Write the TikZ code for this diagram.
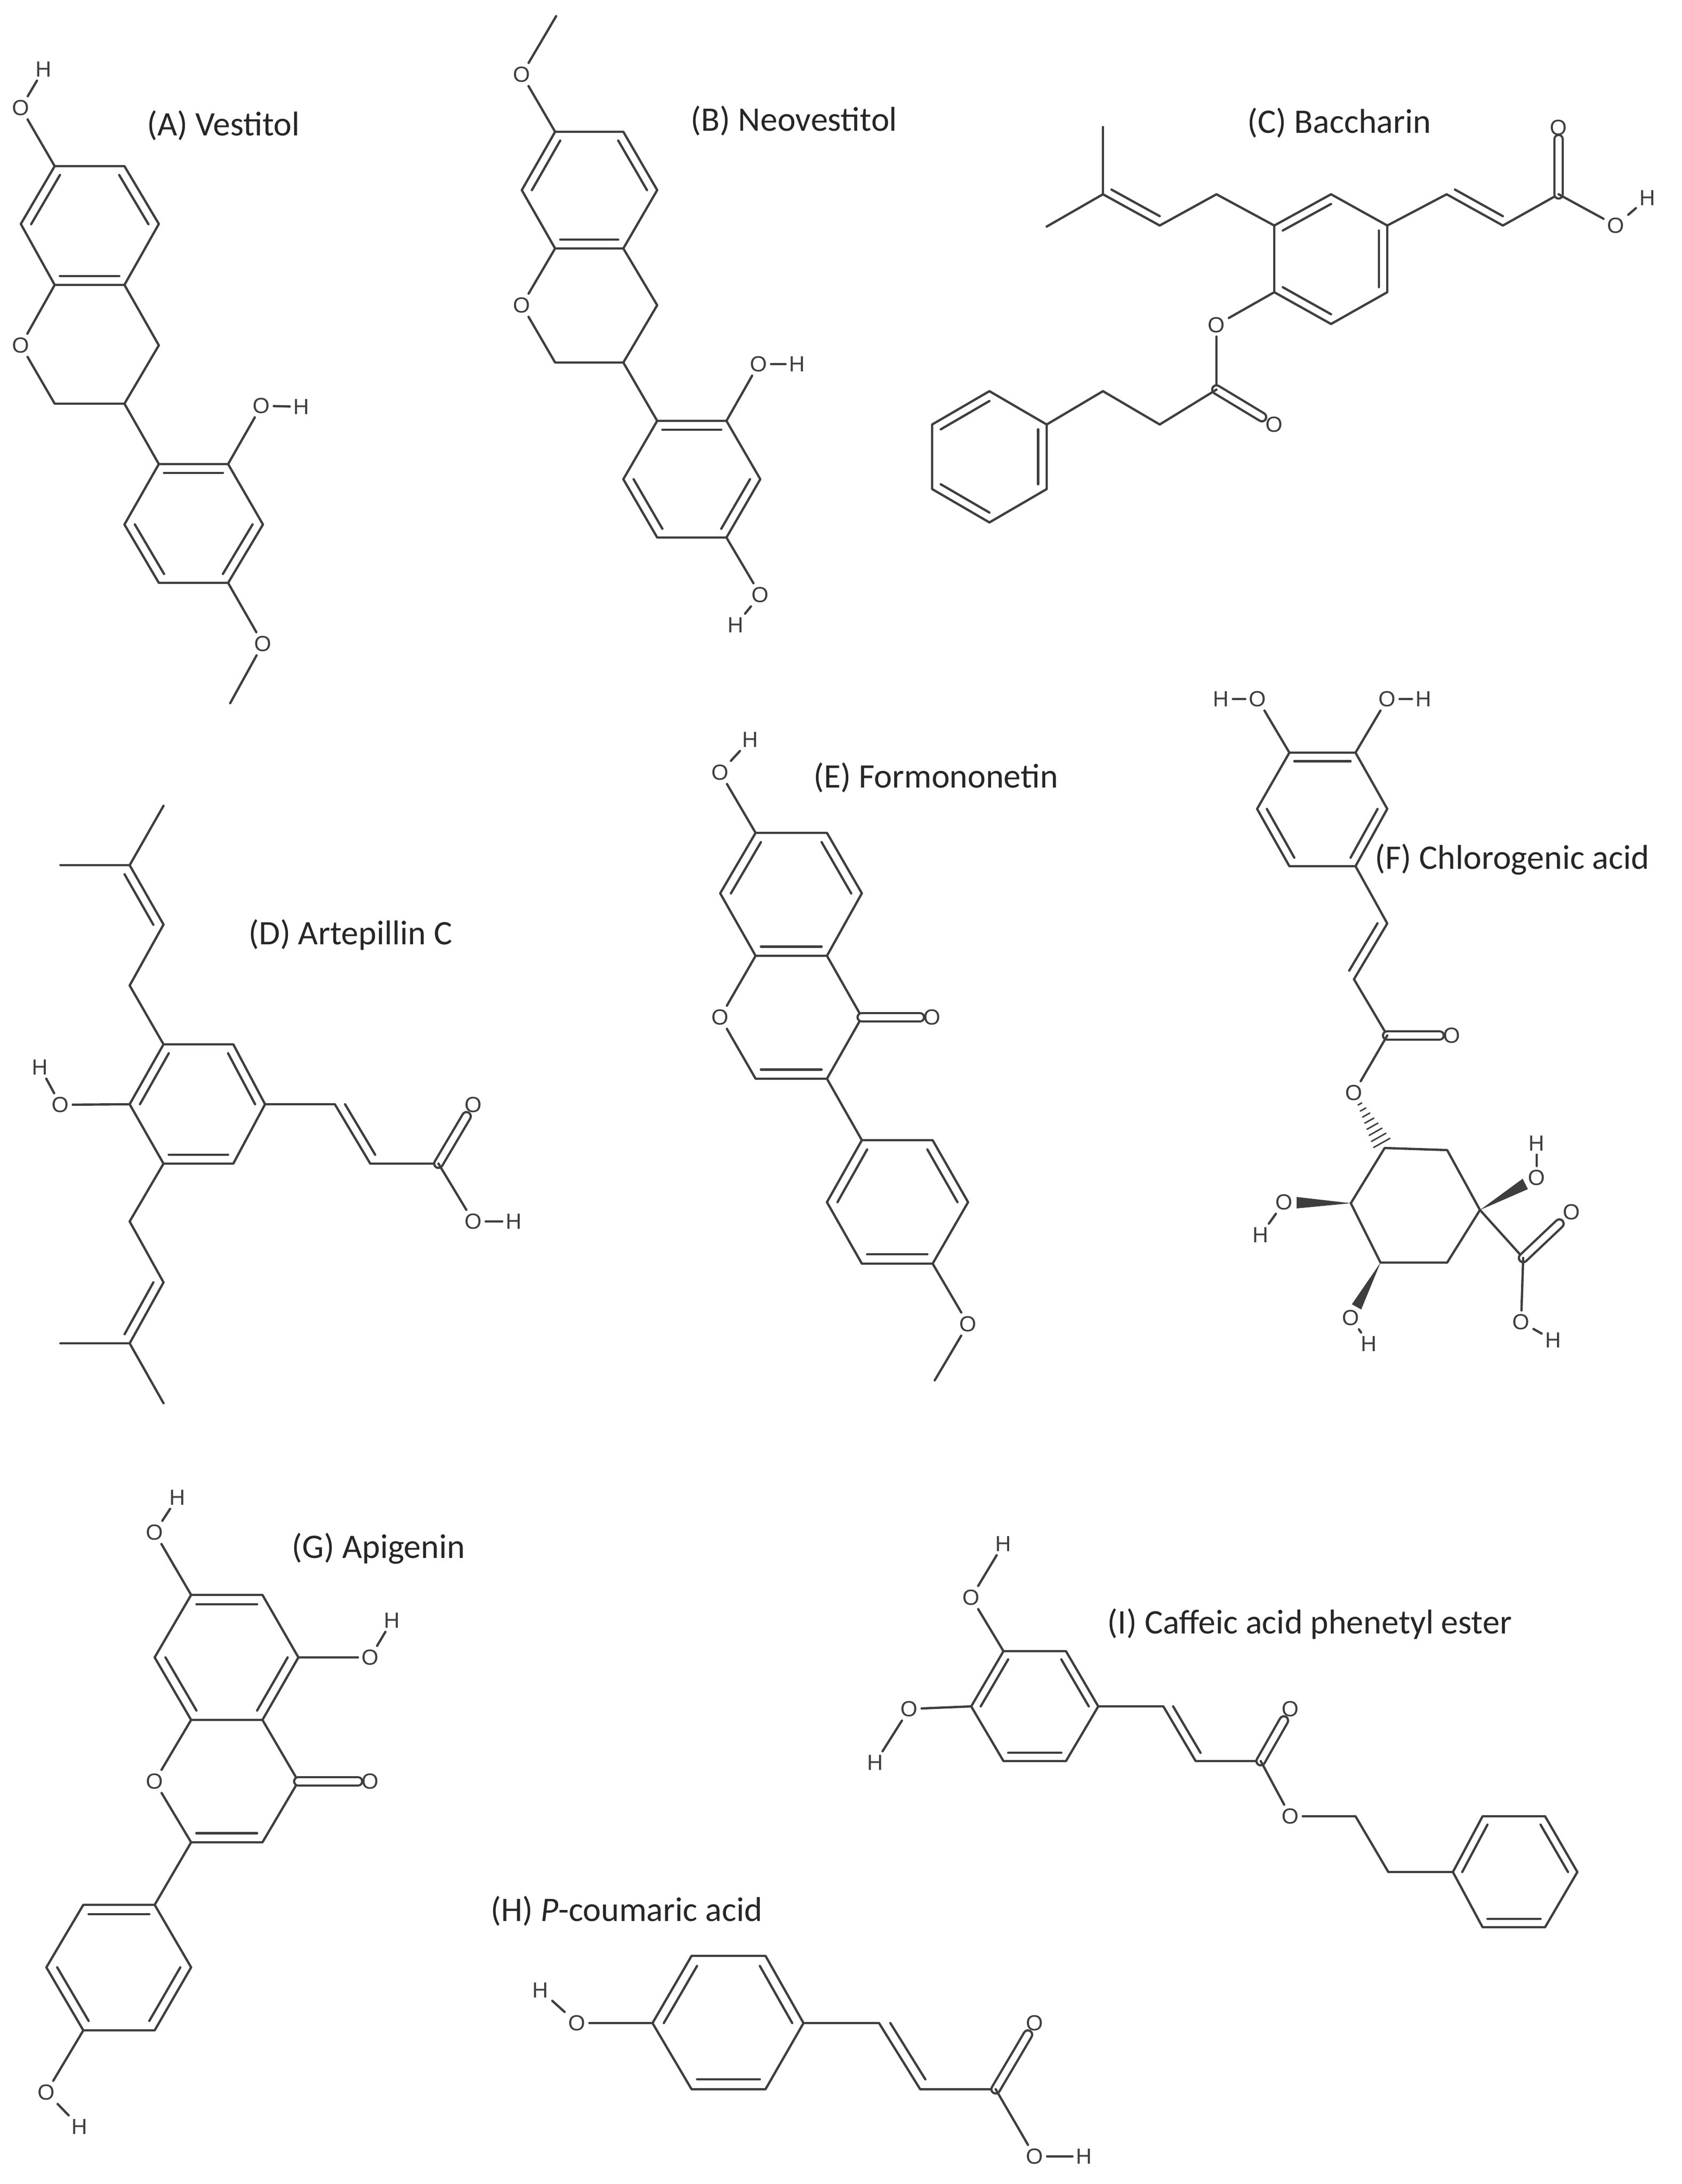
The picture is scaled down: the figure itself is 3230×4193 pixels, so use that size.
\documentclass[tikz,border=0pt]{standalone}
\usepackage{fontspec}
\setmainfont{Carlito}
\newfontfamily\atomfam{Liberation Sans}
\usetikzlibrary{calc}
\definecolor{bc}{RGB}{62,62,62}
\newcommand\dblin[3]{\draw ($(#1)!0.15!(#3)$) -- ($(#2)!0.15!(#3)$);}
\newcommand\hexring[7]{\draw (#1)--(#2)--(#3)--(#4)--(#5)--(#6)--cycle; \coordinate (#7) at ($(#1)!0.5!(#4)$);}
\tikzset{
 atom/.style={font=\atomfam\fontsize{10.5}{12}\selectfont, inner sep=1.3pt, text=bc},
 ttl/.style={font=\fontsize{16.5}{20}\selectfont, text=black!85, inner sep=0pt},
 dbc/.style={double=white, double distance=3pt},
}
\begin{document}
\begin{tikzpicture}[x=0.25pt,y=-0.25pt, line width=1.1pt, color=bc, line join=round, line cap=round]
\useasboundingbox (0,0) rectangle (3230,4193);
\fill[white] (0,0) rectangle (3230,4193);

%% (A) Vestitol
\node[ttl] (tA) at (429,241) {(A) Vestitol};
\coordinate (a1) at (105,319); \coordinate (a2) at (239,319); \coordinate (a3) at (305,430);
\coordinate (a4) at (239,547); \coordinate (a5) at (105,547); \coordinate (a6) at (40,430);
\hexring{a1}{a2}{a3}{a4}{a5}{a6}{ac}
\dblin{a6}{a1}{ac}\dblin{a2}{a3}{ac}\dblin{a4}{a5}{ac}
\node[atom] (aO1) at (40,207) {O}; \node[atom] (aH1) at (84,133) {H};
\draw (a1)--(aO1)--(aH1);
\node[atom] (aO2) at (40,663) {O};
\coordinate (a7) at (105,775); \coordinate (a8) at (239,775); \coordinate (a9) at (305,663);
\draw (a5)--(aO2)--(a7)--(a8)--(a9)--(a4);
\coordinate (b1) at (305,891); \coordinate (b2) at (438,891); \coordinate (b3) at (505,1007);
\coordinate (b4) at (438,1119); \coordinate (b5) at (305,1119); \coordinate (b6) at (239,1007);
\hexring{b1}{b2}{b3}{b4}{b5}{b6}{bc}
\dblin{b1}{b2}{bc}\dblin{b3}{b4}{bc}\dblin{b5}{b6}{bc}
\draw (a8)--(b1);
\node[atom] (aO3) at (502,779) {O}; \node[atom] (aH3) at (579,781) {H};
\draw (b2)--(aO3)--(aH3);
\node[atom] (aO4) at (505,1236) {O}; \coordinate (aMe) at (442,1350);
\draw (b4)--(aO4)--(aMe);

%% (B) Neovestitol
\node[ttl] (tB) at (1525,232) {(B) Neovestitol};
\coordinate (c1) at (1066,253); \coordinate (c2) at (1197,253); \coordinate (c3) at (1262,365);
\coordinate (c4) at (1197,477); \coordinate (c5) at (1066,477); \coordinate (c6) at (1002,365);
\hexring{c1}{c2}{c3}{c4}{c5}{c6}{cc}
\dblin{c6}{c1}{cc}\dblin{c2}{c3}{cc}\dblin{c4}{c5}{cc}
\node[atom] (bO1) at (1002,143) {O}; \coordinate (bMe) at (1068,31);
\draw (c1)--(bO1)--(bMe);
\node[atom] (bO2) at (1002,586) {O};
\coordinate (c7) at (1066,696); \coordinate (c8) at (1197,696); \coordinate (c9) at (1262,586);
\draw (c5)--(bO2)--(c7)--(c8)--(c9)--(c4);
\coordinate (d1) at (1262,808); \coordinate (d2) at (1395,808); \coordinate (d3) at (1460,920);
\coordinate (d4) at (1395,1032); \coordinate (d5) at (1262,1032); \coordinate (d6) at (1197,920);
\hexring{d1}{d2}{d3}{d4}{d5}{d6}{dc}
\dblin{d1}{d2}{dc}\dblin{d3}{d4}{dc}\dblin{d5}{d6}{dc}
\draw (c8)--(d1);
\node[atom] (bO3) at (1457,699) {O}; \node[atom] (bH3) at (1531,699) {H};
\draw (d2)--(bO3)--(bH3);
\node[atom] (bO4) at (1460,1142) {O}; \node[atom] (bH4) at (1413,1200) {H};
\draw (d4)--(bO4)--(bH4);

%% (C) Baccharin
\node[ttl] (tC) at (2572,236) {(C) Baccharin};
\coordinate (e1) at (2447,433); \coordinate (e2) at (2556,373); \coordinate (e3) at (2664,433);
\coordinate (e4) at (2664,561); \coordinate (e5) at (2556,622); \coordinate (e6) at (2447,561);
\hexring{e1}{e2}{e3}{e4}{e5}{e6}{ec}
\dblin{e1}{e2}{ec}\dblin{e3}{e4}{ec}\dblin{e5}{e6}{ec}
\coordinate (cMt) at (2118,244); \coordinate (cC) at (2118,373); \coordinate (cMl) at (2010,435);
\coordinate (cC2) at (2227,433); \coordinate (cCH) at (2336,373);
\draw (cMt)--(cC)--(cC2)--(cCH)--(e1); \draw (cMl)--(cC);
\dblin{cC}{cC2}{$(cC)+(cCH)-(cC2)$}
\coordinate (f1) at (2778,373); \coordinate (f2) at (2886,433); \coordinate (f3) at (2993,373);
\draw (e3)--(f1)--(f2)--(f3);
\dblin{f1}{f2}{$(f1)+(f3)-(f2)$}
\node[atom] (cO1) at (2993,245) {O}; \draw[dbc] (f3)--(cO1);
\node[atom] (cO2) at (3103,433) {O}; \node[atom] (cH2) at (3164,380) {H};
\draw (f3)--(cO2)--(cH2);
\node[atom] (cO3) at (2336,624) {O}; \coordinate (cE) at (2336,748);
\draw (e6)--(cO3)--(cE);
\node[atom] (cO4) at (2447,815) {O}; \draw[dbc] (cE)--(cO4);
\coordinate (cP1) at (2227,815); \coordinate (cP2) at (2118,751);
\coordinate (g1) at (2010,815); \coordinate (g2) at (2010,939); \coordinate (g3) at (1900,1003);
\coordinate (g4) at (1790,939); \coordinate (g5) at (1790,815); \coordinate (g6) at (1900,751);
\draw (cE)--(cP1)--(cP2)--(g1);
\hexring{g1}{g2}{g3}{g4}{g5}{g6}{gc}
\dblin{g1}{g2}{gc}\dblin{g3}{g4}{gc}\dblin{g5}{g6}{gc}

%% (D) Artepillin C
\node[ttl] (tD) at (673,1795) {(D) Artepillin C};
\coordinate (h1) at (314,2005); \coordinate (h2) at (448,2005); \coordinate (h3) at (509,2120);
\coordinate (h4) at (448,2234); \coordinate (h5) at (314,2234); \coordinate (h6) at (249,2120);
\hexring{h1}{h2}{h3}{h4}{h5}{h6}{hc}
\dblin{h6}{h1}{hc}\dblin{h2}{h3}{hc}\dblin{h4}{h5}{hc}
\coordinate (dMt) at (314,1547); \coordinate (dC) at (249,1661); \coordinate (dMl) at (116,1661);
\coordinate (dC2) at (314,1775); \coordinate (dCH) at (249,1892);
\draw (dMt)--(dC)--(dC2)--(dCH)--(h1); \draw (dMl)--(dC);
\dblin{dC}{dC2}{$(dC)+(dCH)-(dC2)$}
\coordinate (dBH) at (249,2345); \coordinate (dB2) at (314,2462); \coordinate (dB) at (249,2579);
\coordinate (dBl) at (116,2579); \coordinate (dBb) at (314,2694);
\draw (h5)--(dBH)--(dB2)--(dB)--(dBb); \draw (dBl)--(dB);
\dblin{dB}{dB2}{$(dB)+(dBH)-(dB2)$}
\node[atom] (dO1) at (116,2121) {O}; \node[atom] (dH1) at (77,2049) {H};
\draw (h6)--(dO1)--(dH1);
\coordinate (i1) at (643,2120); \coordinate (i2) at (711,2234); \coordinate (i3) at (842,2234);
\draw (h3)--(i1)--(i2)--(i3);
\dblin{i1}{i2}{$(i1)+(i3)-(i2)$}
\node[atom] (dO2) at (909,2121) {O}; \draw[dbc] (i3)--(dO2);
\node[atom] (dO3) at (909,2345) {O}; \node[atom] (dH3) at (987,2345) {H};
\draw (i3)--(dO3)--(dH3);

%% (E) Formononetin
\node[ttl] (tE) at (1797,1493) {(E) Formononetin};
\coordinate (j1) at (1451,1599); \coordinate (j2) at (1588,1599); \coordinate (j3) at (1655,1715);
\coordinate (j4) at (1588,1835); \coordinate (j5) at (1451,1835); \coordinate (j6) at (1383,1715);
\hexring{j1}{j2}{j3}{j4}{j5}{j6}{jc}
\dblin{j6}{j1}{jc}\dblin{j2}{j3}{jc}\dblin{j4}{j5}{jc}
\node[atom] (eO1) at (1383,1483) {O}; \node[atom] (eH1) at (1441,1420) {H};
\draw (j1)--(eO1)--(eH1);
\node[atom] (eO2) at (1383,1953) {O};
\coordinate (k1) at (1451,2071); \coordinate (k2) at (1588,2071); \coordinate (k3) at (1655,1953);
\coordinate (kc) at (1519,1953);
\draw (j5)--(eO2)--(k1)--(k2)--(k3)--(j4);
\dblin{k1}{k2}{kc}
\node[atom] (eO3) at (1790,1953) {O}; \draw[dbc] (k3)--(eO3);
\coordinate (l1) at (1655,2189); \coordinate (l2) at (1791,2189); \coordinate (l3) at (1859,2308);
\coordinate (l4) at (1791,2426); \coordinate (l5) at (1655,2426); \coordinate (l6) at (1588,2308);
\hexring{l1}{l2}{l3}{l4}{l5}{l6}{lc}
\dblin{l6}{l1}{lc}\dblin{l2}{l3}{lc}\dblin{l4}{l5}{lc}
\draw (k2)--(l1);
\node[atom] (eO4) at (1859,2542) {O}; \coordinate (eMe) at (1795,2650);
\draw (l4)--(eO4)--(eMe);

%% (F) Chlorogenic acid
\node[ttl, anchor=west] (tF) at (2638,1650) {(F) Chlorogenic acid};
\coordinate (m1) at (2476,1445); \coordinate (m2) at (2603,1445); \coordinate (m3) at (2664,1553);
\coordinate (m4) at (2603,1663); \coordinate (m5) at (2476,1663); \coordinate (m6) at (2414,1553);
\hexring{m1}{m2}{m3}{m4}{m5}{m6}{mc}
\dblin{m1}{m2}{mc}\dblin{m3}{m4}{mc}\dblin{m5}{m6}{mc}
\node[atom] (fO1) at (2415,1342) {O}; \node[atom] (fH1) at (2345,1342) {H};
\draw (m1)--(fO1)--(fH1);
\node[atom] (fO2) at (2664,1342) {O}; \node[atom] (fH2) at (2734,1342) {H};
\draw (m2)--(fO2)--(fH2);
\coordinate (n1) at (2664,1773); \coordinate (n2) at (2600,1880); \coordinate (n3) at (2664,1988);
\draw (m4)--(n1)--(n2)--(n3);
\dblin{n1}{n2}{$(m4)+(n2)-(n1)$}
\node[atom] (fO3) at (2788,1988) {O}; \draw[dbc] (n3)--(fO3);
\node[atom] (fO4) at (2600,2098) {O}; \draw (n3)--(fO4);
\coordinate (q1) at (2659,2204); \coordinate (q2) at (2779,2208); \coordinate (q3) at (2842,2323);
\coordinate (q4) at (2779,2424); \coordinate (q5) at (2651,2424); \coordinate (q6) at (2594,2310);
\draw (q1)--(q2)--(q3)--(q4)--(q5)--(q6)--cycle;
\coordinate (fOs) at (2609,2115);
\foreach \t/\w in {0.05/1.0,0.17/1.5,0.29/2.0,0.41/2.5,0.53/3.0,0.65/3.5,0.77/4.0,0.89/4.5}
  \draw[line width=0.7pt] ($(fOs)!\t!(q1)!\w pt!90:(q1)$) -- ($(fOs)!\t!(q1)!\w pt!-90:(q1)$);
\node[atom] (fO5) at (2466,2308) {O}; \node[atom] (fH5) at (2421,2371) {H};
\fill (q6) -- (2490,2298) -- (2490,2320) -- cycle; \draw (fO5)--(fH5);
\node[atom] (fO6) at (2594,2530) {O}; \node[atom] (fH6) at (2629,2580) {H};
\fill (q5) -- (2614,2514) -- (2596,2504) -- cycle; \draw (fO6)--(fH6);
\node[atom] (fO7) at (2951,2261) {O}; \node[atom] (fH7) at (2951,2195) {H};
\fill (q3) -- (2934,2283) -- (2924,2263) -- cycle; \draw (fO7)--(fH7);
\coordinate (fC) at (2925,2415); \draw (q3)--(fC);
\node[atom] (fO8) at (3018,2327) {O}; \draw[dbc] (fC)--(fO8);
\node[atom] (fO9) at (2921,2538) {O}; \node[atom] (fH9) at (2983,2573) {H};
\draw (fC)--(fO9)--(fH9);

%% (G) Apigenin
\node[ttl] (tG) at (727,2973) {(G) Apigenin};
\coordinate (r1) at (367,3062); \coordinate (r2) at (504,3062); \coordinate (r3) at (573,3182);
\coordinate (r4) at (504,3302); \coordinate (r5) at (367,3302); \coordinate (r6) at (297,3182);
\hexring{r1}{r2}{r3}{r4}{r5}{r6}{rc}
\dblin{r1}{r2}{rc}\dblin{r3}{r4}{rc}\dblin{r5}{r6}{rc}
\node[atom] (gO1) at (297,2942) {O}; \node[atom] (gH1) at (341,2875) {H};
\draw (r1)--(gO1)--(gH1);
\node[atom] (gO2) at (711,3182) {O}; \node[atom] (gH2) at (753,3111) {H};
\draw (r3)--(gO2)--(gH2);
\node[atom] (gO3) at (297,3420) {O};
\coordinate (s1) at (367,3537); \coordinate (s2) at (504,3537); \coordinate (s3) at (573,3420);
\coordinate (sc) at (435,3420);
\draw (r5)--(gO3)--(s1)--(s2)--(s3)--(r4);
\dblin{s1}{s2}{sc}
\node[atom] (gO4) at (711,3420) {O}; \draw[dbc] (s3)--(gO4);
\coordinate (t1) at (297,3657); \coordinate (t2) at (367,3777); \coordinate (t3) at (297,3898);
\coordinate (t4) at (160,3898); \coordinate (t5) at (89,3777); \coordinate (t6) at (160,3657);
\hexring{t1}{t2}{t3}{t4}{t5}{t6}{tc}
\dblin{t1}{t6}{tc}\dblin{t2}{t3}{tc}\dblin{t4}{t5}{tc}
\draw (s1)--(t1);
\node[atom] (gO5) at (89,4017) {O}; \node[atom] (gH5) at (153,4083) {H};
\draw (t4)--(gO5)--(gH5);

%% (I) Caffeic acid phenetyl ester
\node[ttl] (tI) at (2515,3118) {(I) Caffeic acid phenetyl ester};
\coordinate (u1) at (1927,3170); \coordinate (u2) at (2047,3170); \coordinate (u3) at (2109,3276);
\coordinate (u4) at (2047,3381); \coordinate (u5) at (1927,3381); \coordinate (u6) at (1865,3276);
\hexring{u1}{u2}{u3}{u4}{u5}{u6}{uc}
\dblin{u1}{u6}{uc}\dblin{u2}{u3}{uc}\dblin{u4}{u5}{uc}
\node[atom] (iO1) at (1865,3067) {O}; \node[atom] (iH1) at (1927,2964) {H};
\draw (u1)--(iO1)--(iH1);
\node[atom] (iO2) at (1746,3281) {O}; \node[atom] (iH2) at (1681,3384) {H};
\draw (u6)--(iO2)--(iH2);
\coordinate (v1) at (2234,3276); \coordinate (v2) at (2296,3381); \coordinate (v3) at (2421,3381);
\draw (u3)--(v1)--(v2)--(v3);
\dblin{v1}{v2}{$(v1)+(v3)-(v2)$}
\node[atom] (iO3) at (2478,3281) {O}; \draw[dbc] (v3)--(iO3);
\node[atom] (iO4) at (2478,3487) {O};
\coordinate (iC1) at (2603,3487); \coordinate (iC2) at (2666,3594);
\coordinate (w1) at (2790,3594); \coordinate (w2) at (2847,3487); \coordinate (w3) at (2967,3487);
\coordinate (w4) at (3029,3594); \coordinate (w5) at (2967,3700); \coordinate (w6) at (2847,3700);
\draw (v3)--(iO4)--(iC1)--(iC2)--(w1);
\hexring{w1}{w2}{w3}{w4}{w5}{w6}{wc}
\dblin{w1}{w2}{wc}\dblin{w3}{w4}{wc}\dblin{w5}{w6}{wc}

%% (H) P-coumaric acid
\node[ttl] (tH) at (1203,3669) {(H) \textit{P}-coumaric acid};
\coordinate (x1) at (1253,3884); \coordinate (x2) at (1328,3755); \coordinate (x3) at (1470,3755);
\coordinate (x4) at (1543,3884); \coordinate (x5) at (1470,4011); \coordinate (x6) at (1328,4011);
\hexring{x1}{x2}{x3}{x4}{x5}{x6}{xc}
\dblin{x1}{x2}{xc}\dblin{x3}{x4}{xc}\dblin{x5}{x6}{xc}
\node[atom] (hO1) at (1108,3884) {O}; \node[atom] (hH1) at (1038,3821) {H};
\draw (x1)--(hO1)--(hH1);
\coordinate (y1) at (1688,3884); \coordinate (y2) at (1767,4011); \coordinate (y3) at (1912,4011);
\draw (x4)--(y1)--(y2)--(y3);
\dblin{y1}{y2}{$(y1)+(y3)-(y2)$}
\node[atom] (hO2) at (1987,3884) {O}; \draw[dbc] (y3)--(hO2);
\node[atom] (hO3) at (1987,4140) {O}; \node[atom] (hH3) at (2082,4140) {H};
\draw (y3)--(hO3)--(hH3);
\end{tikzpicture}
\end{document}
